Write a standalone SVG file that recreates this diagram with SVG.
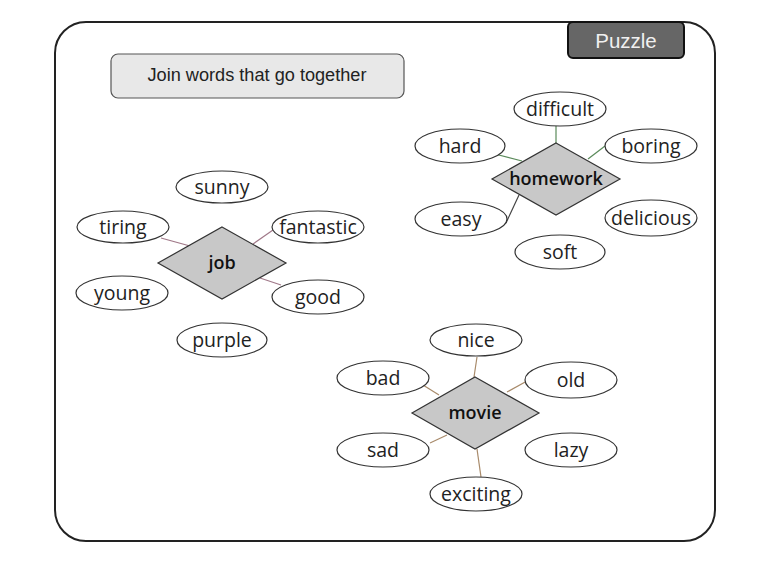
<svg xmlns="http://www.w3.org/2000/svg" width="770" height="564" viewBox="0 0 770 564">
<style>
.w ellipse{fill:#fff;stroke:#333;stroke-width:1.2}
.w text,.d text{font-family:"Open Sans","Noto Sans",sans-serif;font-size:19.5px;fill:#222;text-anchor:middle}
.d polygon{fill:#c8c8c8;stroke:#333;stroke-width:1.2}
.d text{font-weight:600;font-size:18px;fill:#111}
.cg line{stroke:#5a8a5a;stroke-width:1.2}
.cj line{stroke:#a07888;stroke-width:1.2}
.cm line{stroke:#a88a6a;stroke-width:1.2}
</style>
<rect x="0" y="0" width="770" height="564" fill="#fff"/>
<g id="frame">
<rect x="55" y="22" width="660" height="519" rx="31" ry="31" fill="#fff" stroke="#222" stroke-width="2"/>
</g>
<g id="puzzle">
<rect x="568" y="22" width="116" height="36" rx="5" fill="#666" stroke="#111" stroke-width="2"/>
<text x="626" y="47.5" font-family="Liberation Sans,Arial,sans-serif" font-size="20.5" fill="#f0f0f0" text-anchor="middle">Puzzle</text>
</g>
<g id="instruction">
<rect x="111" y="54" width="293" height="44" rx="7" fill="#e8e8e8" stroke="#555" stroke-width="1.2"/>
<text x="257" y="81" font-family="Liberation Sans,Arial,sans-serif" font-size="17.5" fill="#222" text-anchor="middle" textLength="219" lengthAdjust="spacingAndGlyphs">Join words that go together</text>
</g>
<g id="connectors">
<g class="cg">
<line x1="556" y1="126" x2="556" y2="143"/>
<line x1="491" y1="153" x2="522" y2="161"/>
<line x1="605" y1="146" x2="588" y2="159"/>
<line x1="519" y1="195" x2="506" y2="223" style="stroke:#444"/>
</g>
<g class="cj">
<line x1="161" y1="238" x2="190" y2="246"/>
<line x1="273" y1="230" x2="253" y2="244"/>
<line x1="260" y1="278" x2="281" y2="285"/>
</g>
<g class="cm">
<line x1="477" y1="357" x2="474" y2="377"/>
<line x1="423" y1="385" x2="439" y2="395"/>
<line x1="527" y1="381" x2="507" y2="392"/>
<line x1="430" y1="443" x2="447" y2="435"/>
<line x1="477" y1="449" x2="481" y2="477"/>
</g>
</g>
<g id="homework" class="d"><polygon points="556,143 620,179 556,215 492,179"/><text x="556" y="185">homework</text></g>
<g id="job" class="d"><polygon points="222,227 286,263 222,299 158,263"/><text x="222" y="269">job</text></g>
<g id="movie" class="d"><polygon points="475,377 539,413 475,449 412,413"/><text x="475" y="419">movie</text></g>
<g id="w-difficult" class="w"><ellipse cx="560" cy="109" rx="46" ry="17"/><text x="560" y="116">difficult</text></g>
<g id="w-hard" class="w"><ellipse cx="460" cy="146" rx="45" ry="17"/><text x="460" y="153">hard</text></g>
<g id="w-boring" class="w"><ellipse cx="651" cy="146" rx="46" ry="17"/><text x="651" y="153">boring</text></g>
<g id="w-easy" class="w"><ellipse cx="461" cy="219" rx="46" ry="17"/><text x="461" y="226">easy</text></g>
<g id="w-delicious" class="w"><ellipse cx="651" cy="218" rx="46" ry="18"/><text x="651" y="225">delicious</text></g>
<g id="w-soft" class="w"><ellipse cx="560" cy="252" rx="45" ry="17"/><text x="560" y="259">soft</text></g>
<g id="w-sunny" class="w"><ellipse cx="222" cy="187" rx="46" ry="16"/><text x="222" y="194">sunny</text></g>
<g id="w-tiring" class="w"><ellipse cx="123" cy="227" rx="46" ry="16"/><text x="123" y="234">tiring</text></g>
<g id="w-fantastic" class="w"><ellipse cx="318" cy="227" rx="46" ry="16"/><text x="318" y="234">fantastic</text></g>
<g id="w-young" class="w"><ellipse cx="122" cy="293" rx="46" ry="17"/><text x="122" y="300">young</text></g>
<g id="w-good" class="w"><ellipse cx="318" cy="297" rx="46" ry="17"/><text x="318" y="304">good</text></g>
<g id="w-purple" class="w"><ellipse cx="222" cy="340" rx="45" ry="17"/><text x="222" y="347">purple</text></g>
<g id="w-nice" class="w"><ellipse cx="476" cy="340" rx="46" ry="16"/><text x="476" y="347">nice</text></g>
<g id="w-bad" class="w"><ellipse cx="383" cy="378" rx="46" ry="17"/><text x="383" y="385">bad</text></g>
<g id="w-old" class="w"><ellipse cx="571" cy="380" rx="46" ry="18"/><text x="571" y="387">old</text></g>
<g id="w-sad" class="w"><ellipse cx="383" cy="450" rx="46" ry="17"/><text x="383" y="457">sad</text></g>
<g id="w-lazy" class="w"><ellipse cx="571" cy="450" rx="46" ry="17"/><text x="571" y="457">lazy</text></g>
<g id="w-exciting" class="w"><ellipse cx="476" cy="494" rx="46" ry="17"/><text x="476" y="501">exciting</text></g>
</svg>
